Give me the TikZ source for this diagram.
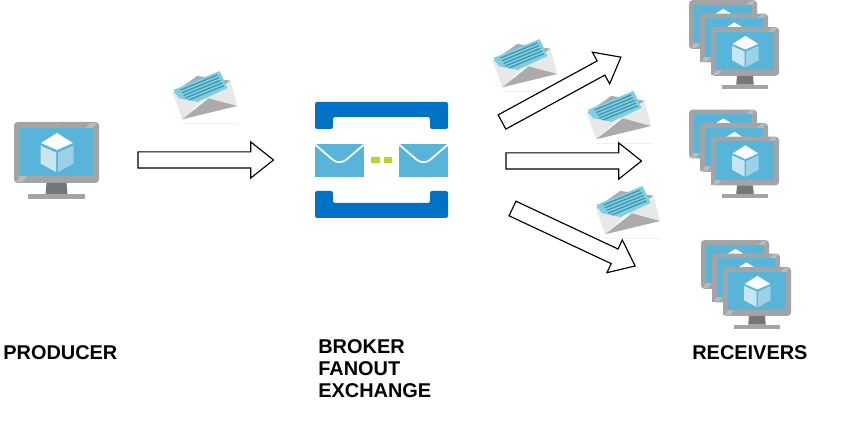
\documentclass[tikz,border=0pt]{standalone}
\usepackage{xcolor}
\usepackage{fontspec}
\setmainfont{Liberation Sans}
\usetikzlibrary{shapes.arrows}
\definecolor{framegray}{HTML}{A3A4A6}
\definecolor{framelight}{HTML}{B9BABB}
\definecolor{neckgray}{HTML}{767676}
\definecolor{screenblue}{HTML}{59B4D9}
\definecolor{cubeleft}{HTML}{C8E6F2}
\definecolor{cuberight}{HTML}{9BD0E6}
\definecolor{brokerblue}{HTML}{0072C6}
\definecolor{dotgreen}{HTML}{B8D432}
\definecolor{paperblue}{HTML}{7FCFE2}
\definecolor{stripeblue}{HTML}{3F93AB}
\definecolor{flapgray}{HTML}{ABABAB}
\definecolor{bodygray}{HTML}{E8E8E8}
\tikzset{
  blockarrow/.style={single arrow,draw=black,fill=white,line width=0.65pt,inner sep=0pt,outer sep=0pt,
    minimum height=2.71cm,text width=0pt,text height=0.3cm,text depth=0pt,
    single arrow head extend=0.2cm,single arrow tip angle=77,anchor=tail},
  caption/.style={font=\fontsize{11.34}{12.47}\selectfont\bfseries,align=left,inner sep=0pt},
  monitor/.pic={
    \fill[framegray,rounded corners=2pt] (-42.5,-30.5) rectangle (42.5,30.5);
    \fill[framelight] (-40,29.5) -- (-36.5,23.5) -- (-29,23.5) -- (-34,29.5) -- cycle;
    \fill[framelight] (36.5,-24.5) -- (29,-24.5) -- (34,-29.5) -- (40,-29.5) -- cycle;
    \fill[screenblue] (-36.5,-24.5) rectangle (36.5,23.5);
    \fill[dotgreen] (0,-29) circle (0.9);
    \fill[neckgray] (-10,30.5) -- (10,30.5) -- (11,41.5) -- (-11,41.5) -- cycle;
    \fill[framegray] (-28.5,41.5) rectangle (28.5,46.5);
    \fill[white] (0.5,-19.5) -- (16.5,-9.5) -- (0.5,-2.5) -- (-15.5,-9.5) -- cycle;
    \fill[cubeleft] (-16,-7) -- (-0.5,0) -- (-0.5,19.5) -- (-16,11) -- cycle;
    \fill[cuberight] (17,-7) -- (1.5,0) -- (1.5,19.5) -- (17,11) -- cycle;
  },
  letter/.pic={
    \fill[flapgray] (-32.7,-1.7) -- (-8.3,-19) -- (25,-14.3) -- (3,3) -- cycle;
    \fill[bodygray] (-32.7,-1.7) -- (-3,6) -- (-23.3,24.3) -- cycle;
    \fill[bodygray] (25,-14.3) -- (31.7,11) -- (3.3,3.3) -- (-3,6) -- cycle;
    \begin{scope}
      \path[clip] (-32,-5) -- (14,-24) -- (22,-7) -- (-8,7) -- (-27,3) -- cycle;
      \fill[paperblue] (-33,-26) rectangle (23,8);
      \foreach \i in {0,...,4}
        \draw[stripeblue,line width=0.7pt] ({-25+1.6*\i},{-5+2.7*\i}) -- ({11.7+1.6*\i},{-20+2.7*\i});
    \end{scope}
    \fill[flapgray] (-23.3,24.3) -- (3.3,3.3) -- (31.7,11) -- cycle;
    \draw[black!6,line width=0.5pt] (-23,28) -- (32,28);
  },
  mailbox/.pic={
    \fill[screenblue] (-24.5,-16.5) rectangle (24.5,16.5);
    \draw[white,line width=1pt,rounded corners=5pt] (-24.5,-16) -- (0,5) -- (24.5,-16);
  }
}
\begin{document}
\begin{tikzpicture}[x=0.02cm,y=-0.02cm]
  \useasboundingbox (0,0) rectangle (862,438);
  \pic at (56.5,152.5) {monitor};
  \foreach \gx/\gy in {745/51.5,745/161,757/291.5}
    \foreach \d in {2,1,0}
      \pic[scale=0.8] at ({\gx-11*\d},{\gy-13.5*\d}) {monitor};
  \fill[brokerblue,rounded corners=1.2pt] (315,102) -- (448,102) -- (448,129) -- (430,129) -- (430,117) -- (333,117) -- (333,129) -- (315,129) -- cycle;
  \fill[brokerblue,rounded corners=1.2pt] (315,218) -- (448,218) -- (448,191) -- (430,191) -- (430,203) -- (333,203) -- (333,191) -- (315,191) -- cycle;
  \pic at (339.5,160.5) {mailbox};
  \pic at (423.5,160.5) {mailbox};
  \fill[dotgreen] (371,157) rectangle (380,163) (384,157) rectangle (392,163);
  \foreach \lx/\ly in {205.5/95,525.5/63,619.5/115,628.5/210}
    \pic at (\lx,\ly) {letter};
  \node[blockarrow] (sendarrow) at (138,160) {};
  \node[blockarrow,rotate=28.6] (toparrow) at (502,122) {};
  \node[blockarrow] (midarrow) at (506,161) {};
  \node[blockarrow,rotate=-25.1] (lowarrow) at (512.5,208.5) {};
  \node[caption,anchor=base west] (producer) at (3,360) {PRODUCER};
  \node[caption,anchor=north west] (broker) at (318,339) {BROKER\\FANOUT\\EXCHANGE};
  \node[caption,anchor=base west] (receivers) at (692,360) {RECEIVERS};
\end{tikzpicture}
\end{document}
